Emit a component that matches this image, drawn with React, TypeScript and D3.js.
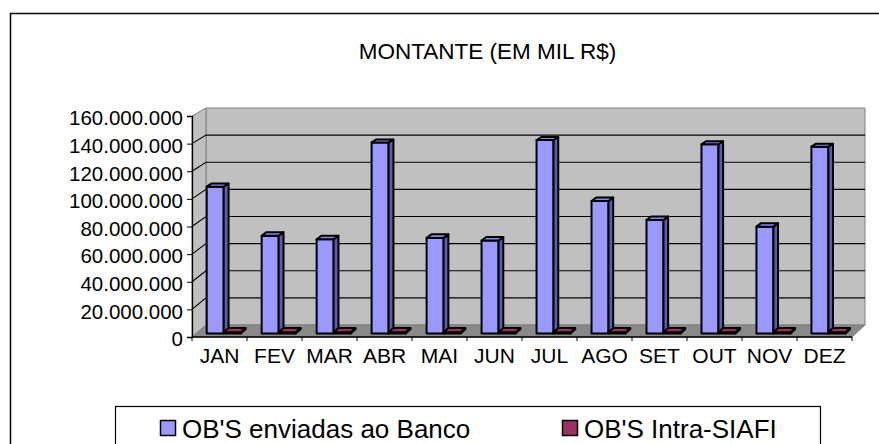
import React, { useEffect, useRef } from "react";
import * as d3 from "d3";

const months = ["JAN", "FEV", "MAR", "ABR", "MAI", "JUN", "JUL", "AGO", "SET", "OUT", "NOV", "DEZ"];
const seriesNames = ["OB'S enviadas ao Banco", "OB'S Intra-SIAFI"];
const enviadasBanco = [
  106800000, 71100000, 68500000, 139000000, 69500000, 67600000,
  140800000, 96400000, 82600000, 137700000, 77700000, 135900000,
];
const intraSiafi = [
  800000, 800000, 800000, 800000, 800000, 800000,
  800000, 800000, 800000, 800000, 800000, 800000,
];
const yTicks = [0, 20000000, 40000000, 60000000, 80000000, 100000000, 120000000, 140000000, 160000000];
const title = "MONTANTE (EM MIL R$)";

const width = 879;
const height = 444;
const FONT = "'Liberation Sans', Arial, sans-serif";

const App: React.FC = () => {
  const svgRef = useRef<SVGSVGElement>(null);

  useEffect(() => {
    if (!svgRef.current) return;
    const svg = d3.select(svgRef.current);
    svg.selectAll("*").remove();

    const yMax = yTicks[yTicks.length - 1];
    const n = months.length;

    // front plane and back wall scales (the 3d box has a bit of perspective)
    const xFront = d3.scaleLinear().domain([0, n]).range([192, 852]);
    const xBack = d3.scaleLinear().domain([0, n]).range([206, 865]);
    const yFront = d3.scaleLinear().domain([0, yMax]).range([337, 116]);
    const yBack = d3.scaleLinear().domain([0, yMax]).range([325, 108]);
    const band = d3.scaleBand<string>().domain(months).range([192, 852]);

    const proj = (pos: number, v: number, d: number): [number, number] => [
      xFront(pos) * (1 - d) + xBack(pos) * d,
      yFront(v) * (1 - d) + yBack(v) * d,
    ];
    const poly = (pts: [number, number][]) =>
      pts.map((p) => p.map((c) => c.toFixed(2)).join(",")).join(" ");

    const fmt = d3.formatLocale({
      decimal: ",",
      thousands: ".",
      grouping: [3],
      currency: ["R$", ""],
    }).format(",d");

    svg.append("rect").attr("width", width).attr("height", height).attr("fill", "#fff");

    // outer frame
    svg
      .append("rect")
      .attr("x", 10.5)
      .attr("y", 13.5)
      .attr("width", 900)
      .attr("height", 500)
      .attr("fill", "none")
      .attr("stroke", "#000")
      .attr("stroke-width", 1.5);

    // title
    svg
      .append("text")
      .attr("x", 487.5)
      .attr("y", 59.3)
      .attr("text-anchor", "middle")
      .attr("font-family", FONT)
      .attr("font-size", 22.5)
      .text(title);

    // walls
    const walls = svg.append("g").attr("stroke", "#808080").attr("stroke-width", 1);
    walls
      .append("polygon")
      .attr("fill", "#c0c0c0")
      .attr("points", poly([proj(0, 0, 1), proj(n, 0, 1), proj(n, yMax, 1), proj(0, yMax, 1)]));
    walls
      .append("polygon")
      .attr("fill", "#c0c0c0")
      .attr("points", poly([proj(0, 0, 0), proj(0, 0, 1), proj(0, yMax, 1), proj(0, yMax, 0)]));
    walls
      .append("polygon")
      .attr("fill", "#898989")
      .attr("points", poly([proj(0, 0, 0), proj(n, 0, 0), proj(n, 0, 1), proj(0, 0, 1)]));

    // gridlines on the back and side walls
    const grid = svg.append("g").attr("stroke", "#000").attr("stroke-width", 1.1).attr("fill", "none");
    yTicks.slice(1, -1).forEach((t) => {
      grid.append("polyline").attr("points", poly([proj(0, t, 0), proj(0, t, 1), proj(n, t, 1)]));
    });

    // y axis
    const yAxis = svg
      .append("g")
      .attr("transform", "translate(192,0)")
      .call(d3.axisLeft(yFront).tickValues(yTicks).tickFormat((d) => fmt(+d)).tickSize(5).tickPadding(4));
    yAxis.select(".domain").attr("stroke", "#000").attr("stroke-width", 1.3);
    yAxis.selectAll(".tick line").attr("stroke", "#000");
    yAxis
      .selectAll(".tick text")
      .attr("font-family", FONT)
      .attr("font-size", 20.5)
      .attr("fill", "#000")
      .attr("dy", "0.43em");

    // x axis
    const xAxis = svg.append("g").attr("transform", "translate(0,337)");
    xAxis
      .append("line")
      .attr("x1", xFront(0))
      .attr("x2", xFront(n))
      .attr("stroke", "#000")
      .attr("stroke-width", 1.3);
    xAxis
      .selectAll("line.tick")
      .data(d3.range(n + 1))
      .join("line")
      .attr("class", "tick")
      .attr("x1", (i) => xFront(i))
      .attr("x2", (i) => xFront(i))
      .attr("y2", 4)
      .attr("stroke", "#000");
    xAxis
      .selectAll("text")
      .data(months)
      .join("text")
      .attr("x", (m) => band(m)! + band.bandwidth() / 2)
      .attr("y", 26.3)
      .attr("text-anchor", "middle")
      .attr("font-family", FONT)
      .attr("font-size", 21)
      .text((m) => m);

    // 3d bars
    const series = [
      { values: enviadasBanco, front: "#9999ff", top: "#8787ec", side: "#5c5cae" },
      { values: intraSiafi, front: "#993366", top: "#993366", side: "#6b2347" },
    ];
    const gapFrac = 10.5 / 55;
    const barFrac = 17 / 55;
    const d0 = 0.3;
    const d1 = 0.65;
    const bars = svg
      .append("g")
      .attr("stroke", "#000")
      .attr("stroke-width", 2)
      .attr("stroke-linejoin", "round");

    months.forEach((_, i) => {
      series.forEach((s, si) => {
        const v = s.values[i];
        const p0 = i + gapFrac + si * barFrac;
        const p1 = p0 + barFrac;
        const g = bars.append("g");
        g.append("polygon")
          .attr("fill", s.front)
          .attr("points", poly([proj(p0, 0, d0), proj(p1, 0, d0), proj(p1, v, d0), proj(p0, v, d0)]));
        g.append("polygon")
          .attr("fill", s.side)
          .attr("points", poly([proj(p1, 0, d0), proj(p1, 0, d1), proj(p1, v, d1), proj(p1, v, d0)]));
        g.append("polygon")
          .attr("fill", s.top)
          .attr("points", poly([proj(p0, v, d0), proj(p1, v, d0), proj(p1, v, d1), proj(p0, v, d1)]));
      });
    });

    // legend
    const legend = svg.append("g");
    legend
      .append("rect")
      .attr("x", 115.5)
      .attr("y", 406.5)
      .attr("width", 705)
      .attr("height", 80)
      .attr("fill", "#fff")
      .attr("stroke", "#000")
      .attr("stroke-width", 1.2);
    const legendX = [160, 562];
    seriesNames.forEach((name, i) => {
      legend
        .append("rect")
        .attr("x", legendX[i] + 0.5)
        .attr("y", 420.5)
        .attr("width", 15)
        .attr("height", 15)
        .attr("fill", series[i].front)
        .attr("stroke", "#000")
        .attr("stroke-width", 1.5);
      legend
        .append("text")
        .attr("x", legendX[i] + 22)
        .attr("y", 438)
        .attr("font-family", FONT)
        .attr("font-size", 26)
        .text(name);
    });
  }, []);

  return (
    <svg
      ref={svgRef}
      width={width}
      height={height}
      style={{ position: "absolute", left: 0, top: 0, display: "block" }}
    />
  );
};

export default App;
